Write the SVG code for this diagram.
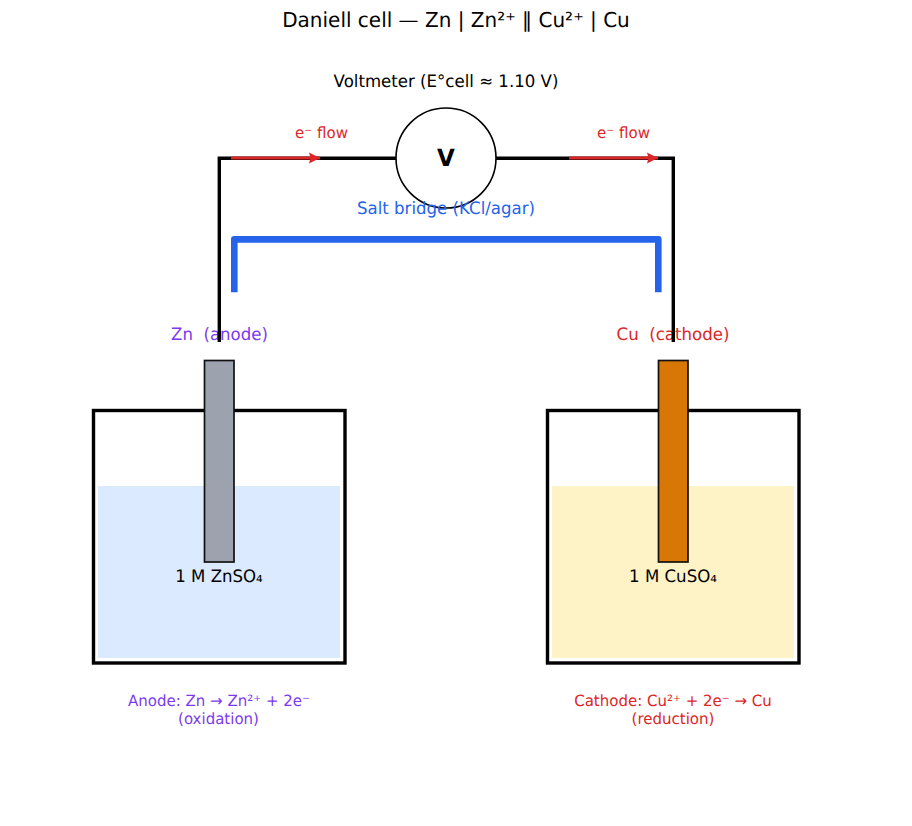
<svg xmlns="http://www.w3.org/2000/svg" width="912" height="826" viewBox="0 0 912 826">
<style>
text{font-family:"DejaVu Sans",sans-serif;text-anchor:middle;text-rendering:geometricPrecision;white-space:pre;transform-box:fill-box;transform-origin:center;transform:scaleY(1.03)}
.l{font-size:16.600px}.s{font-size:15px}.r{fill:#dc2626}.p{fill:#7c3aed}
.beaker{fill:none;stroke:#000;stroke-width:3.400}
.el{stroke:#111;stroke-width:1.700}
.wire{fill:none;stroke:#000;stroke-width:3.400;stroke-linejoin:miter}
.flow{stroke:#dc2626;stroke-width:3.200;fill:none;marker-end:url(#ah)}
</style>
<defs><marker id="ah" markerUnits="userSpaceOnUse" markerWidth="12" markerHeight="12" refX="11" refY="6" orient="auto"><path d="M0,0.600L11,6L0,11.400L1.500,6Z" fill="#dc2626"/></marker></defs>
<rect width="912" height="826" fill="#fff"/>
<text id="title" x="456" y="27" font-size="20">Daniell cell — Zn | Zn²⁺ ‖ Cu²⁺ | Cu</text>
<g id="left-cell">
<rect x="98" y="486" width="242" height="172" fill="#dbeafe"/>
<rect class="beaker" x="93.500" y="410.500" width="251.500" height="252.500"/>
<text class="l" x="219" y="582">1 M ZnSO₄</text>
<text class="s p" x="219" y="706">Anode: Zn → Zn²⁺ + 2e⁻</text>
<text class="s p" x="218.500" y="724">(oxidation)</text>
</g>
<g id="right-cell">
<rect x="552" y="486" width="242" height="172" fill="#fef3c7"/>
<rect class="beaker" x="547.500" y="410.500" width="251.500" height="252.500"/>
<text class="l" x="673" y="582">1 M CuSO₄</text>
<text class="s r" x="673" y="706">Cathode: Cu²⁺ + 2e⁻ → Cu</text>
<text class="s r" x="673" y="724">(reduction)</text>
</g>
<g id="zn-electrode">
<rect class="el" x="204.500" y="360.500" width="29.500" height="201.500" fill="#9ca3af"/>
<text class="l p" x="219.500" y="340">Zn  (anode)</text>
</g>
<g id="cu-electrode">
<rect class="el" x="658.500" y="360.500" width="29.500" height="201.500" fill="#d97706"/>
<text class="l r" x="673" y="340">Cu  (cathode)</text>
</g>
<g id="connectors">
<path class="wire" d="M219.300,342V158.200H397"/>
<path class="wire" d="M495,158.200H673.300V342"/>
<path class="flow" d="M231,158H320"/>
<path class="flow" d="M569,158H658"/>
<path d="M234.300,292.300V239.400H658.300V292.300" fill="none" stroke="#2563eb" stroke-width="6.600" stroke-linejoin="round"/>
</g>
<g id="voltmeter">
<circle cx="446" cy="158" r="50" fill="#fff" stroke="#000" stroke-width="1.600"/>
<text x="446" y="165.500" font-size="23" font-weight="bold">V</text>
<text class="l" x="446" y="87">Voltmeter (E°cell ≈ 1.10 V)</text>
</g>
<g id="labels">
<text class="s r" x="321.500" y="138">e⁻ flow</text>
<text class="s r" x="623.500" y="138">e⁻ flow</text>
<text class="l" x="446" y="214" fill="#2563eb">Salt bridge (KCl/agar)</text>
</g>
</svg>
